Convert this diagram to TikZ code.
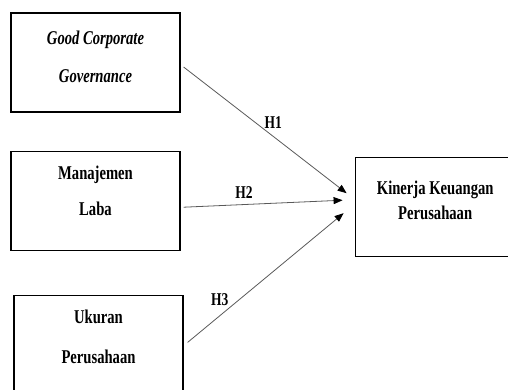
\documentclass[tikz,border=0pt]{standalone}
\usepackage{fontspec}
\setmainfont{Liberation Serif}[FakeStretch=0.75]
\usetikzlibrary{positioning, arrows.meta}
\newcommand{\boxfont}{\fontsize{19.5}{23}\selectfont\bfseries}

\begin{document}
\begin{tikzpicture}[
          x=1pt, y=1pt,
          node distance=38pt,
          box/.style={rectangle, draw, line width=1.2pt, minimum width=169pt, minimum height=99pt, align=center, inner sep=0pt, font=\boxfont},
          lift/.style={execute at end node={\rule[-#1]{0pt}{0pt}}},
          arrow/.style={-{Triangle[length=9pt, width=7pt, color=black]}, draw=black!65, line width=0.8pt},
          hyp/.style={font=\fontsize{18}{20}\selectfont\bfseries, inner sep=1pt}
        ]
          \useasboundingbox (0,0) rectangle (508,-389);

          \node[box, lift=11.5pt, font=\boxfont\itshape] (gcg) at (95.5,-62.5) {Good Corporate\\[15pt]Governance};
          \node[box, lift=20pt, below=of gcg] (mlaba) {Manajemen\\[13pt]Laba};
          \node[box, lift=16pt, below=44pt of mlaba, xshift=3pt] (ukuran) {Ukuran\\[17pt]Perusahaan};
          \node[box, lift=13pt, minimum width=160pt, right=174pt of mlaba, yshift=-6pt] (kinerja) {Kinerja Keuangan\\[2pt]Perusahaan};

          \coordinate (t1) at ([shift={(-8pt,13.5pt)}]kinerja.west);
          \coordinate (t2) at ([shift={(-12pt,6.5pt)}]kinerja.west);
          \coordinate (t3) at ([shift={(-11pt,-6.5pt)}]kinerja.west);

          \draw[arrow] ([shift={(3pt,-4.5pt)}]gcg.east) -- (t1) node[hyp, pos=0.55, above=7pt] {H1};
          \draw[arrow] ([shift={(3pt,-6.5pt)}]mlaba.east) -- (t2) node[hyp, pos=0.38, above=5pt] {H2};
          \draw[arrow] ([shift={(4pt,2.5pt)}]ukuran.east) -- (t3) node[hyp, pos=0.27, above left=0pt] {H3};
        \end{tikzpicture}
\end{document}
